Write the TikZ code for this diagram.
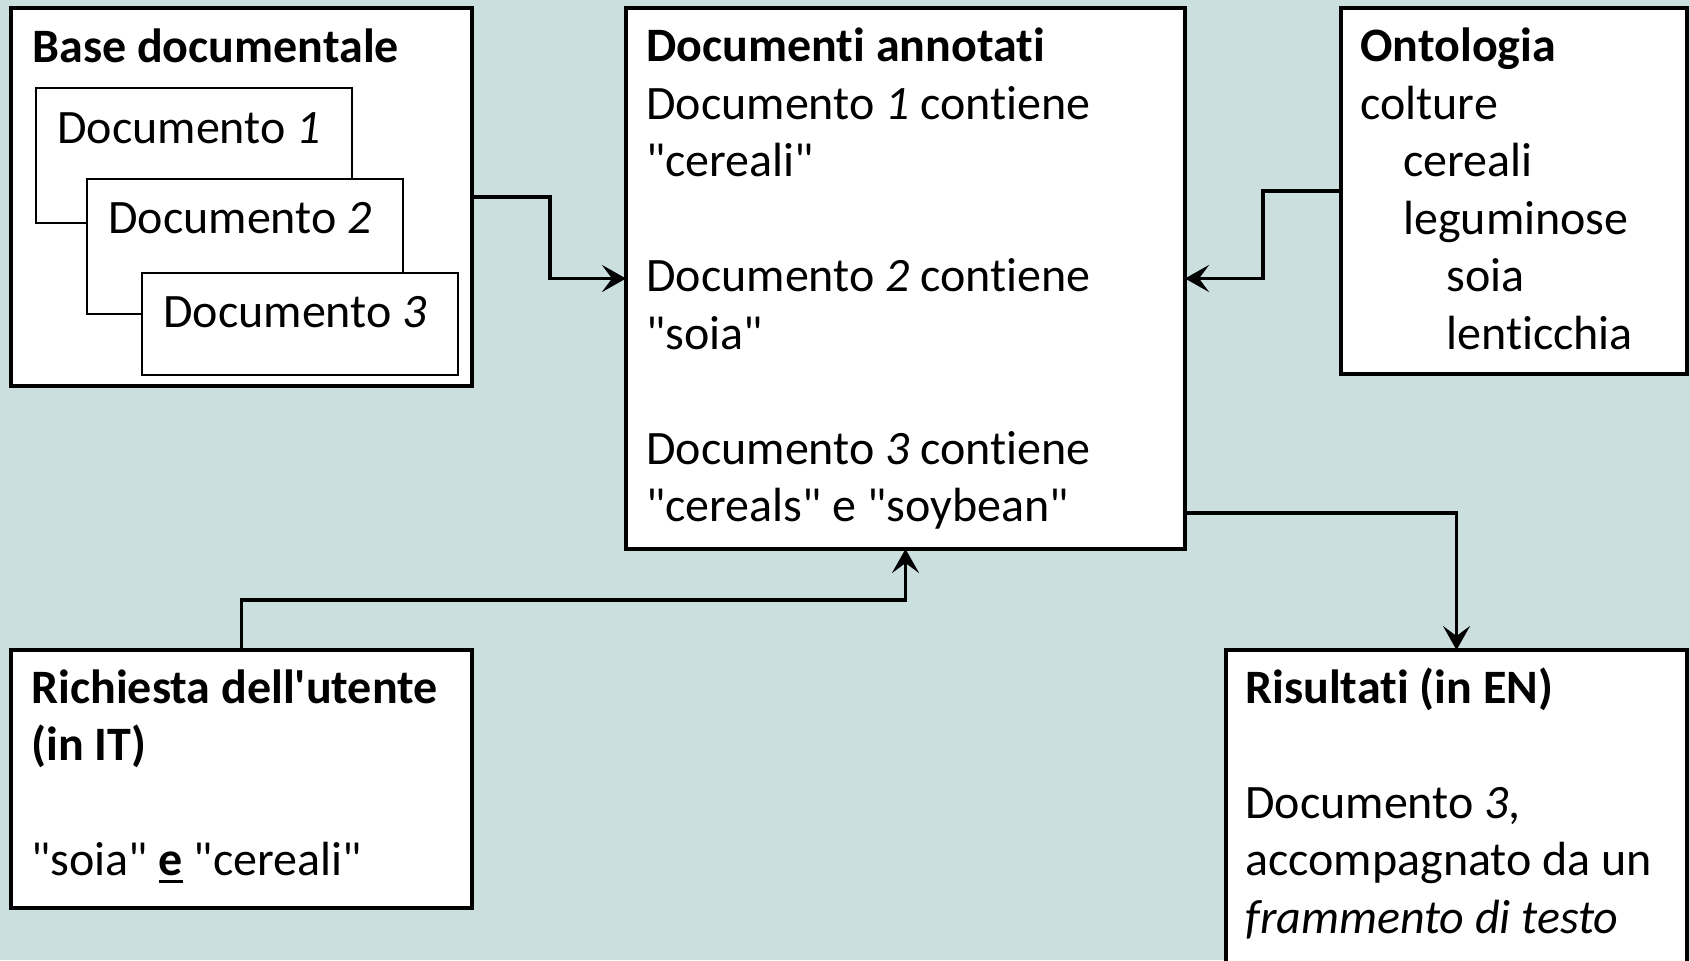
\documentclass[tikz,border=0pt]{standalone}
\usepackage{fontspec}
\setmainfont{Carlito}[Ligatures={TeXOff,NoCommon}]
\usetikzlibrary{arrows.meta}

\definecolor{bgteal}{RGB}{203,223,222}
\newcommand{\diafont}{\fontsize{24}{28.75}\selectfont}
% first line strut: baseline sits 20pt below the top of the text node
\newcommand{\topline}{\rule{0pt}{20pt}}
% heavy underline
\newcommand{\heavyul}[1]{{\setbox0\hbox{#1}\rlap{\rule[-3.5pt]{\wd0}{1.4pt}}\box0}}

\begin{document}
\begin{tikzpicture}[x=0.5pt,y=-0.5pt,
    box/.style={draw, fill=white, line width=1.7pt, inner sep=0pt, outer sep=0pt, anchor=north west},
    doc/.style={draw, fill=white, line width=0.65pt, inner sep=0pt, outer sep=0pt, anchor=north west, minimum width=158pt},
    txt/.style={anchor=north west, inner sep=0pt, align=left, font=\diafont},
    conn/.style={line width=1.8pt, -{Stealth[length=12pt,width=13.5pt,inset=5pt]}}
    ]
    \fill[bgteal] (0,0) rectangle (1690,960);
    \useasboundingbox (0,0) rectangle (1690,960);

    % base documentale
    \node[box, minimum width=230.5pt, minimum height=189pt] (base) at (11,8) {};
    \node[txt] (base-t) at ([shift={(21,14)}]base.north west) {\topline\textbf{Base documentale}};
    \node[doc, minimum height=67.5pt] (doca) at (36,88) {};
    \node[txt] (doca-t) at ([shift={(21,15)}]doca.north west) {\topline Documento \textit{1}};
    \node[doc, minimum height=67.5pt] (docb) at (87,179) {};
    \node[txt] (docb-t) at ([shift={(21,14)}]docb.north west) {\topline Documento \textit{2}};
    \node[doc, minimum height=51pt] (docc) at (142,273) {};
    \node[txt] (docc-t) at ([shift={(21,14)}]docc.north west) {\topline Documento \textit{3}};

    % documenti annotati
    \node[box, minimum width=279.5pt, minimum height=270.5pt] (annot) at (626,8) {};
    \node[txt] (annot-t) at ([shift={(20,13.5)}]annot.north west)
      {\topline\textbf{Documenti annotati}\\ Documento \textit{1} contiene\\ "cereali"\\[28.75pt]
       Documento \textit{2} contiene\\ "soia"\\[28.75pt]
       Documento \textit{3} contiene\\ "cereals" e "soybean"};

    % ontologia
    \node[box, minimum width=173pt, minimum height=183pt] (onto) at (1341,8) {};
    \node[txt] (onto-t) at ([shift={(19,13.5)}]onto.north west)
      {\topline\textbf{Ontologia}\\ colture\\ \hspace*{21.5pt}cereali\\ \hspace*{21.5pt}leguminose\\
       \hspace*{43pt}soia\\ \hspace*{43pt}lenticchia};

    % richiesta
    \node[box, minimum width=230.5pt, minimum height=129pt] (query) at (11,650) {};
    \node[txt] (query-t) at ([shift={(20,13)}]query.north west)
      {\topline\textbf{Richiesta dell'utente}\\ \textbf{(in IT)}\\[28.75pt] "soia" \heavyul{\textbf{e}} "cereali"};

    % risultati
    \node[box, minimum width=230.5pt, minimum height=170pt] (result) at (1226,650) {};
    \node[txt] (result-t) at ([shift={(19,13)}]result.north west)
      {\topline\textbf{Risultati (in EN)}\\[28.75pt] Documento \textit{3},\\ accompagnato da un\\ \textit{frammento di testo}};

    \draw[conn] (base.east) -- ++(78,0) |- (annot.west);
    \draw[conn] (onto.west) -- ++(-78,0) |- (annot.east);
    \draw[conn] (query.north) -- ++(0,-50) -| (annot.south);
    \draw[conn] ([yshift=18pt]annot.south east) -| (result.north);
\end{tikzpicture}
\end{document}
